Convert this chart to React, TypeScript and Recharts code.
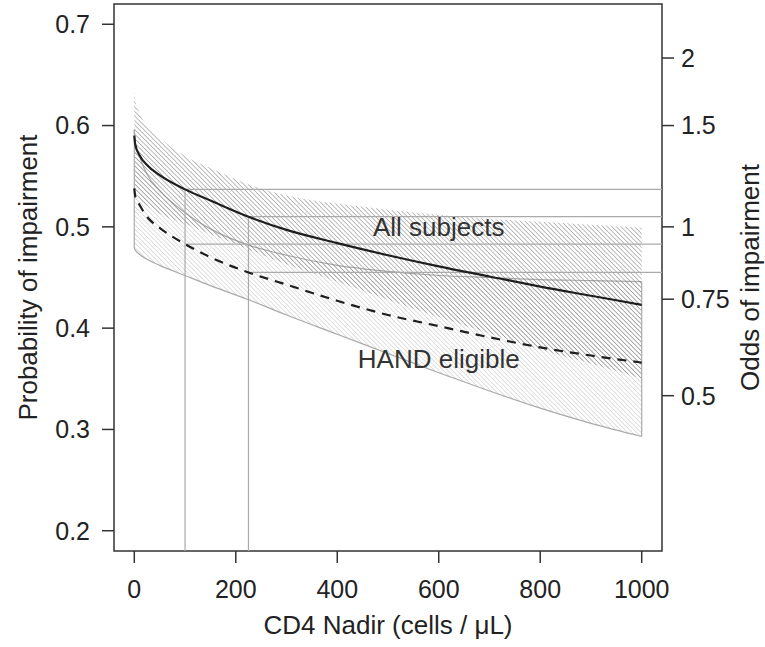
import React from "react"
import {
  Area,
  ComposedChart,
  Label,
  Line,
  ReferenceArea,
  ReferenceDot,
  ReferenceLine,
  XAxis,
  YAxis,
} from "recharts"

// CD4 nadir grid (cells / uL)
const CD4 = [0, 2, 10, 25, 50, 100, 150, 225, 300, 400, 500, 600, 700, 800, 900, 1000]

// All subjects: fitted probability and confidence band
const ALL_FIT = [0.59, 0.581, 0.571, 0.561, 0.551, 0.537, 0.526, 0.51, 0.497, 0.484, 0.472, 0.461, 0.451, 0.441, 0.432, 0.423]
const ALL_HI = [0.635, 0.625, 0.613, 0.6, 0.588, 0.57, 0.558, 0.542, 0.531, 0.523, 0.517, 0.512, 0.508, 0.505, 0.502, 0.499]
const ALL_LO = [0.543, 0.536, 0.528, 0.521, 0.513, 0.503, 0.493, 0.478, 0.463, 0.446, 0.428, 0.411, 0.395, 0.379, 0.365, 0.35]

// HAND eligible: fitted probability and confidence band
const HAND_FIT = [0.538, 0.53, 0.522, 0.51, 0.499, 0.483, 0.47, 0.455, 0.443, 0.427, 0.413, 0.402, 0.391, 0.381, 0.373, 0.366]
const HAND_HI = [0.596, 0.582, 0.57, 0.552, 0.536, 0.514, 0.498, 0.482, 0.472, 0.462, 0.456, 0.452, 0.45, 0.448, 0.447, 0.446]
const HAND_LO = [0.479, 0.477, 0.473, 0.468, 0.462, 0.452, 0.442, 0.428, 0.413, 0.394, 0.375, 0.356, 0.338, 0.321, 0.306, 0.293]

// CD4 values marked with guide lines
const GUIDE_CD4 = [100, 225]

const X_DOMAIN = [-40, 1040]
const X_TICKS = [0, 200, 400, 600, 800, 1000]
const P_DOMAIN = [0.18, 0.72]
const P_TICKS = [0.2, 0.3, 0.4, 0.5, 0.6, 0.7]
const ODDS_TICKS = [0.5, 0.75, 1, 1.5, 2]
const ODDS_LABELS = ["0.5", "0.75", "1", "1.5", "2"]

const FONT = "'Liberation Sans', Arial, Helvetica, sans-serif"
const TEXT = "#222"
const GUIDE = "#aaaaaa"

const rows = CD4.map((x, i) => ({
  x,
  allFit: ALL_FIT[i],
  allBand: [ALL_LO[i], ALL_HI[i]],
  handFit: HAND_FIT[i],
  handBand: [HAND_LO[i], HAND_HI[i]],
}))

const oddsPositions = ODDS_TICKS.map((o) => o / (1 + o))

function oddsLabel(value: number): string {
  let best = 0
  oddsPositions.forEach((p, i) => {
    if (Math.abs(p - value) < Math.abs(oddsPositions[best] - value)) best = i
  })
  return ODDS_LABELS[best]
}

const tickStyle = { fontSize: 25, fill: TEXT, fontFamily: FONT }

function rotatedTitle(text: string, dx: number) {
  return (props: any) => {
    const vb = props.viewBox
    const cx = vb.x + dx
    const cy = vb.y + vb.height / 2
    return (
      <text
        x={cx}
        y={cy}
        transform={`rotate(-90, ${cx}, ${cy})`}
        textAnchor="middle"
        dominantBaseline="central"
        fontSize={26}
        fill={TEXT}
        fontFamily={FONT}
      >
        {text}
      </text>
    )
  }
}

export default function App() {
  const last = CD4.length - 1
  const guideRows = GUIDE_CD4.map((x) => rows[CD4.indexOf(x)])

  return (
    <div style={{ position: "absolute", left: 0, top: 0, width: 765, height: 647, background: "#fff" }}>
      <ComposedChart
        width={765}
        height={647}
        data={rows}
        margin={{ top: 4, right: 0, bottom: 0, left: 0 }}
        style={{ fontFamily: FONT }}
      >
        <defs>
          <pattern id="hatchAll" width="3.2" height="3.2" patternUnits="userSpaceOnUse" patternTransform="rotate(-45)">
            <line x1="0" y1="0" x2="0" y2="3.2" stroke="#7a7a7a" strokeWidth="1" />
          </pattern>
          <pattern id="hatchHand" width="3.2" height="3.2" patternUnits="userSpaceOnUse" patternTransform="rotate(-45)">
            <line x1="0" y1="0" x2="0" y2="3.2" stroke="#c2c2c2" strokeWidth="1" />
          </pattern>
        </defs>

        <XAxis
          type="number"
          dataKey="x"
          domain={X_DOMAIN}
          ticks={X_TICKS}
          allowDataOverflow
          height={96}
          axisLine={false}
          tickSize={12}
          tickMargin={17}
          tickLine={{ stroke: "#333", strokeWidth: 1.5 }}
          tick={tickStyle}
        >
          <Label
            content={(props: any) => {
              const vb = props.viewBox
              return (
                <text
                  x={vb.x + vb.width / 2}
                  y={vb.y + 83}
                  textAnchor="middle"
                  fontSize={26}
                  fill={TEXT}
                  fontFamily={FONT}
                >
                  CD4 Nadir (cells / μL)
                </text>
              )
            }}
          />
        </XAxis>
        <YAxis
          yAxisId="p"
          type="number"
          domain={P_DOMAIN}
          ticks={P_TICKS}
          allowDataOverflow
          width={114}
          axisLine={false}
          tickSize={12}
          tickMargin={12}
          tickLine={{ stroke: "#333", strokeWidth: 1.5 }}
          tick={tickStyle}
          tickFormatter={(v) => Number(v).toFixed(1)}
        >
          <Label content={rotatedTitle("Probability of impairment", 28)} />
        </YAxis>
        <YAxis
          yAxisId="odds"
          orientation="right"
          type="number"
          domain={P_DOMAIN}
          ticks={oddsPositions}
          allowDataOverflow
          width={103}
          axisLine={false}
          tickSize={12}
          tickMargin={7}
          tickLine={{ stroke: "#333", strokeWidth: 1.5 }}
          tick={tickStyle}
          tickFormatter={(v) => oddsLabel(Number(v))}
        >
          <Label content={rotatedTitle("Odds of impairment", 88)} />
        </YAxis>

        <Area
          yAxisId="p"
          type="monotone"
          dataKey="handBand"
          fill="url(#hatchHand)"
          fillOpacity={1}
          stroke={GUIDE}
          strokeWidth={1.2}
          isAnimationActive={false}
        />
        <Area
          yAxisId="p"
          type="monotone"
          dataKey="allBand"
          fill="url(#hatchAll)"
          fillOpacity={1}
          stroke="none"
          isAnimationActive={false}
        />

        <ReferenceLine
          yAxisId="p"
          segment={[{ x: CD4[0], y: HAND_LO[0] }, { x: CD4[0], y: HAND_HI[0] }]}
          stroke={GUIDE}
          strokeWidth={1.2}
        />
        <ReferenceLine
          yAxisId="p"
          segment={[{ x: CD4[last], y: HAND_LO[last] }, { x: CD4[last], y: HAND_HI[last] }]}
          stroke={GUIDE}
          strokeWidth={1.2}
        />

        {guideRows.map((r) => (
          <ReferenceLine
            key={`v${r.x}`}
            yAxisId="p"
            segment={[{ x: r.x, y: P_DOMAIN[0] }, { x: r.x, y: r.allFit }]}
            stroke={GUIDE}
            strokeWidth={1.2}
          />
        ))}
        {guideRows.map((r) => (
          <ReferenceLine
            key={`ha${r.x}`}
            yAxisId="p"
            segment={[{ x: r.x, y: r.allFit }, { x: X_DOMAIN[1], y: r.allFit }]}
            stroke={GUIDE}
            strokeWidth={1.2}
          />
        ))}
        {guideRows.map((r) => (
          <ReferenceLine
            key={`hh${r.x}`}
            yAxisId="p"
            segment={[{ x: r.x, y: r.handFit }, { x: X_DOMAIN[1], y: r.handFit }]}
            stroke={GUIDE}
            strokeWidth={1.2}
          />
        ))}

        <Line
          yAxisId="p"
          type="monotone"
          dataKey="allFit"
          stroke="#1e1e1e"
          strokeWidth={2.2}
          dot={false}
          isAnimationActive={false}
        />
        <Line
          yAxisId="p"
          type="monotone"
          dataKey="handFit"
          stroke="#1e1e1e"
          strokeWidth={2.2}
          strokeDasharray="9 7"
          dot={false}
          isAnimationActive={false}
        />

        <ReferenceDot
          yAxisId="p"
          x={600}
          y={0.5}
          r={0}
          fill="none"
          stroke="none"
          label={{ value: "All subjects", position: "center", fontSize: 26, fill: "#333", fontFamily: FONT }}
        />
        <ReferenceDot
          yAxisId="p"
          x={600}
          y={0.37}
          r={0}
          fill="none"
          stroke="none"
          label={{ value: "HAND eligible", position: "center", fontSize: 26, fill: "#333", fontFamily: FONT }}
        />

        <ReferenceArea
          yAxisId="p"
          x1={X_DOMAIN[0]}
          x2={X_DOMAIN[1]}
          y1={P_DOMAIN[0]}
          y2={P_DOMAIN[1]}
          fill="none"
          stroke="#333"
          strokeWidth={1.5}
          fillOpacity={0}
        />
      </ComposedChart>
    </div>
  )
}
